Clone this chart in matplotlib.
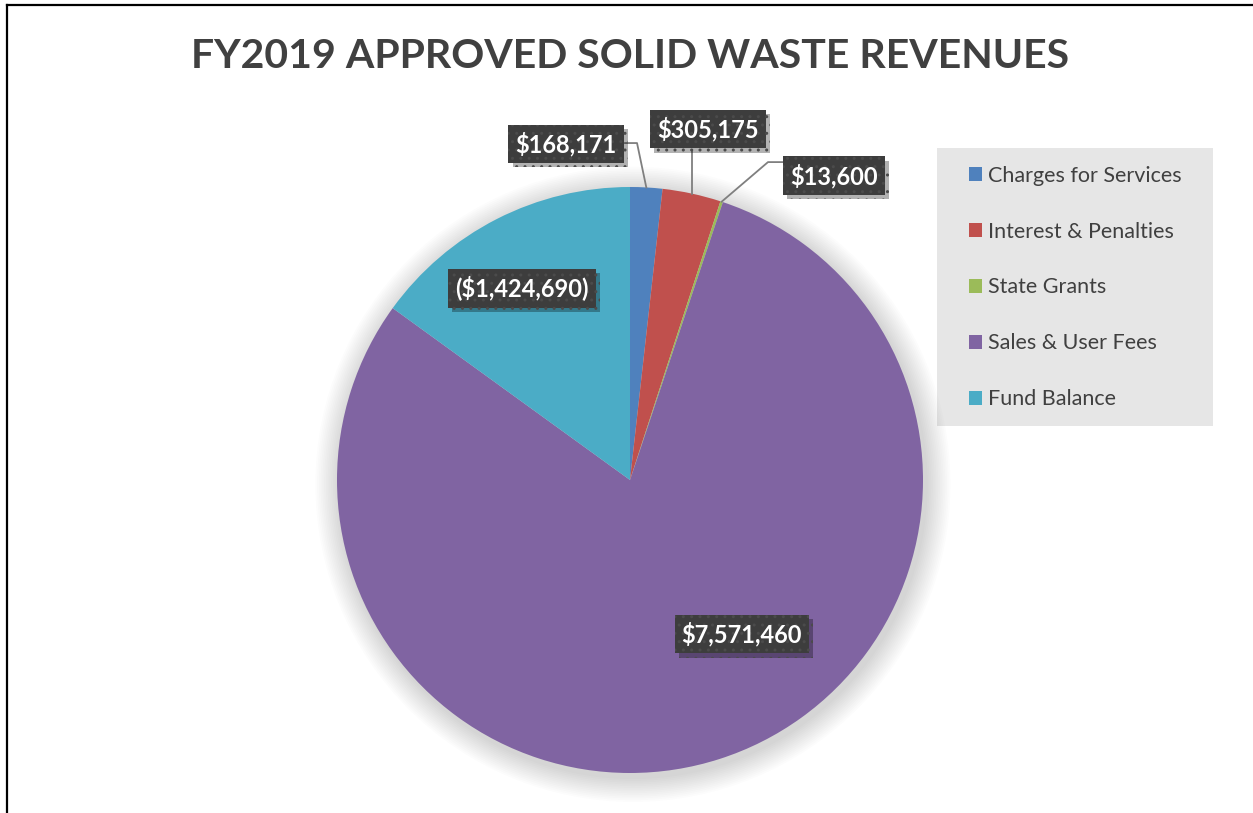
import matplotlib
matplotlib.use("Agg")
import numpy as np
import matplotlib.pyplot as plt
from matplotlib.lines import Line2D
from matplotlib.patches import Patch, Circle, Rectangle
import matplotlib.patheffects as pe

categories = ["Charges for Services", "Interest & Penalties", "State Grants",
              "Sales & User Fees", "Fund Balance"]
amounts = [168171, 305175, 13600, 7571460, -1424690]
label_texts = ["$168,171", "$305,175", "$13,600", "$7,571,460", "($1,424,690)"]
colors = ["#4F81BD", "#C0504D", "#9BBB59", "#8064A2", "#4BACC6"]

TEXT = "#404040"
W, H = 1253, 813

plt.rcParams["font.family"] = ["Lato", "DejaVu Sans"]
plt.rcParams["hatch.linewidth"] = 1.0

fig = plt.figure(figsize=(W / 100, H / 100), dpi=100)

# pie: centre (630, 480) px, radius 293 px
cx, cy, r = 630, 480, 293
ax = fig.add_axes([(cx - r) / W, (H - cy - r) / H, 2 * r / W, 2 * r / H])
ax.set_aspect("equal")
ax.axis("off")

# soft shadow under the pie
for i in range(14):
    ax.add_patch(Circle((0.01, -0.015), 1.0 + 0.006 * (14 - i), color="black",
                        alpha=0.01, lw=0, zorder=0, clip_on=False))

sizes = np.abs(amounts)
wedges, _ = ax.pie(sizes, colors=colors, startangle=90, counterclock=False,
                   radius=1, wedgeprops=dict(linewidth=0), frame=False)
ax.set_xlim(-1, 1)
ax.set_ylim(-1, 1)

# label box positions (data units) and leader elbows
label_pos = [(-0.218, 1.147), (0.266, 1.198), (0.696, 1.038), (0.382, -0.526), (-0.369, 0.655)]
elbows = [[(-0.017, 1.150), (0.024, 1.150)],
          None,
          [(0.522, 1.085), (0.471, 1.085)],
          None, None]

for i, (w, txt, pos) in enumerate(zip(wedges, label_texts, label_pos)):
    mid = np.deg2rad((w.theta1 + w.theta2) / 2)
    ax_pt = (np.cos(mid), np.sin(mid))
    if i == 1:
        ax.plot([ax_pt[0], ax_pt[0]], [1.126, ax_pt[1]], color="#7f7f7f", lw=1.3,
                clip_on=False, zorder=3)
    elif elbows[i] is not None:
        (x0, y0), (x1, y1) = elbows[i]
        ax.plot([x0, x1, ax_pt[0]], [y0, y1, ax_pt[1]], color="#7f7f7f", lw=1.3,
                clip_on=False, zorder=3)
    t = ax.text(pos[0], pos[1], txt, ha="center", va="center", color="white",
                fontsize=17, fontweight="bold", zorder=5,
                bbox=dict(boxstyle="square,pad=0.3", fc="#3d3d3d", ec="#4b4b4b",
                          lw=0, hatch=".."))
    t.get_bbox_patch().set_path_effects(
        [pe.SimplePatchShadow(offset=(3, -3), shadow_rgbFace="black", alpha=0.3),
         pe.Normal()])

# legend background and entries
fig.add_artist(Rectangle((937 / W, 1 - 426 / H), 276 / W, 278 / H,
                         transform=fig.transFigure, facecolor="#e6e6e6",
                         edgecolor="none", zorder=0))
handles = [Patch(facecolor=c, edgecolor="none") for c in colors]
leg = fig.legend(handles, categories, loc="center left",
                 bbox_to_anchor=(969 / W, 1 - 287.5 / H), fontsize=15.5,
                 frameon=False, handlelength=0.6, handleheight=0.6,
                 handletextpad=0.3, labelspacing=1.67, borderpad=0,
                 borderaxespad=0)
for txt in leg.get_texts():
    txt.set_color(TEXT)

fig.text(630 / W, 1 - 57 / H, "FY2019 APPROVED SOLID WASTE REVENUES", ha="center",
         va="center", fontsize=29.5, fontweight="bold", color=TEXT)

# frame lines (top and left)
fig.add_artist(Line2D([7 / W, 7 / W], [0, 1 - 5 / H], color="black", lw=1.6,
                      transform=fig.transFigure))
fig.add_artist(Line2D([7 / W, 1], [1 - 5 / H, 1 - 5 / H], color="black", lw=1.6,
                      transform=fig.transFigure))

fig.savefig("out.png", dpi=100)
